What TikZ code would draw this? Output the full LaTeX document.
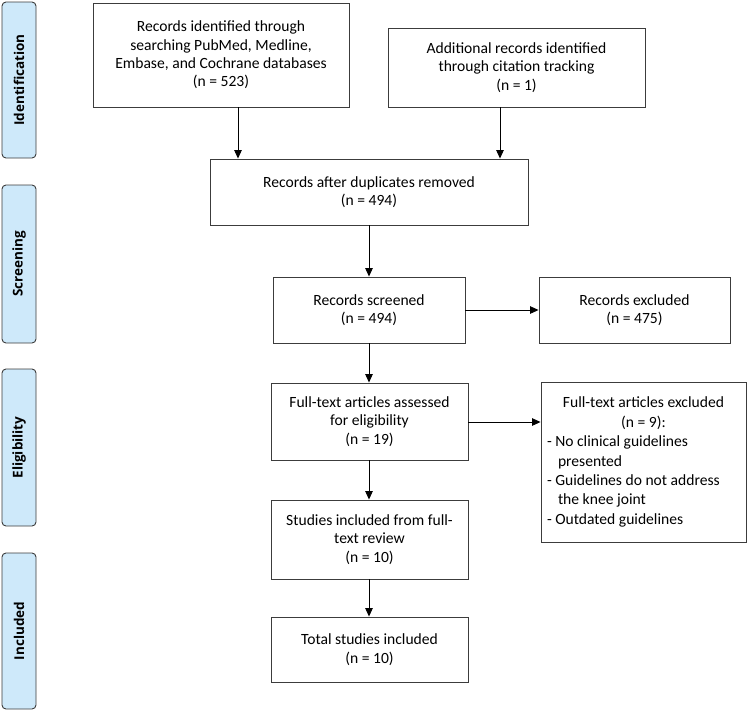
\documentclass[tikz,border=0pt]{standalone}
\usepackage{fontspec}
\setmainfont{Carlito}
\newfontfamily\sidefont{Open Sans}
\usetikzlibrary{arrows.meta}
\definecolor{sideblue}{RGB}{206,233,250}
\definecolor{edge}{RGB}{60,60,60}
\begin{document}
\begin{tikzpicture}[x=1pt,y=-1pt,
  box/.style={draw=edge,line width=0.9pt,fill=white,align=center,inner sep=0pt,
    font=\fontsize{15.6}{18.4}\selectfont},
  side/.style={draw=edge,line width=0.9pt,fill=sideblue,rounded corners=4pt,
    minimum width=34pt,inner sep=0pt},
  sidetext/.style={rotate=90,font=\sidefont\bfseries\fontsize{13.5}{15}\selectfont},
  arr/.style={draw=black,line width=0.9pt,-{Triangle[length=8.5pt,width=7.5pt]}}]
\useasboundingbox (0,0) rectangle (748,713);

% side bars
\node[side,minimum height=156pt] (s1) at (19,80) {};
\node[sidetext] at (s1.center) {Identification};
\node[side,minimum height=158pt] (s2) at (19,264) {};
\node[sidetext] at (s2.center) {Screening};
\node[side,minimum height=157pt] (s3) at (19,447.5) {};
\node[sidetext] at (s3.center) {Eligibility};
\node[side,minimum height=156pt] (s4) at (19,631) {};
\node[sidetext] at (s4.center) {Included};

% boxes
\node[box,minimum width=256pt,minimum height=104pt] (A) at (221,55)
  {Records identified through\\searching PubMed, Medline,\\Embase, and Cochrane databases\\(n = 523)};
\node[box,minimum width=257pt,minimum height=79pt] (B) at (516.5,67.5)
  {Additional records identified\\through citation tracking\\(n = 1)};
\node[box,minimum width=318pt,minimum height=66pt] (C) at (369,192)
  {Records after duplicates removed\\(n = 494)};
\node[box,minimum width=192pt,minimum height=66pt] (D) at (369,310)
  {Records screened\\(n = 494)};
\node[box,minimum width=191pt,minimum height=66pt] (E) at (634.5,310)
  {Records excluded\\(n = 475)};
\node[box,minimum width=197pt,minimum height=77pt] (F) at (369.5,421.5)
  {Full-text articles assessed\\for eligibility\\(n = 19)};
\node[box,minimum width=205pt,minimum height=160pt,align=left] (G) at (643.5,462)
  {\begin{minipage}{193pt}\fontsize{15.6}{19.4}\selectfont
   \centering Full-text articles excluded\\(n = 9):\par
   \raggedright
   - No clinical guidelines\\\hspace*{11pt}presented\\
   - Guidelines do not address\\\hspace*{11pt}the knee joint\\
   - Outdated guidelines\par
   \end{minipage}};
\node[box,minimum width=197pt,minimum height=79pt] (H) at (369.5,539.5)
  {Studies included from full-\\text review\\(n = 10)};
\node[box,minimum width=197pt,minimum height=65pt] (I) at (369.5,649.5)
  {Total studies included\\(n = 10)};

% connector columns
\coordinate (xa) at (238,0);
\coordinate (xb) at (500,0);
\coordinate (xc) at (369,0);
\coordinate (yf) at (0,422);

\draw[arr] (A.south -| xa) -- (C.north -| xa);
\draw[arr] (B.south -| xb) -- (C.north -| xb);
\draw[arr] (C.south -| xc) -- (D.north -| xc);
\draw[arr] (D.east) -- (E.west);
\draw[arr] (D.south -| xc) -- (F.north -| xc);
\draw[arr] (F.east |- yf) -- (G.west |- yf);
\draw[arr] (F.south -| xc) -- (H.north -| xc);
\draw[arr] (H.south -| xc) -- (I.north -| xc);
\end{tikzpicture}
\end{document}
